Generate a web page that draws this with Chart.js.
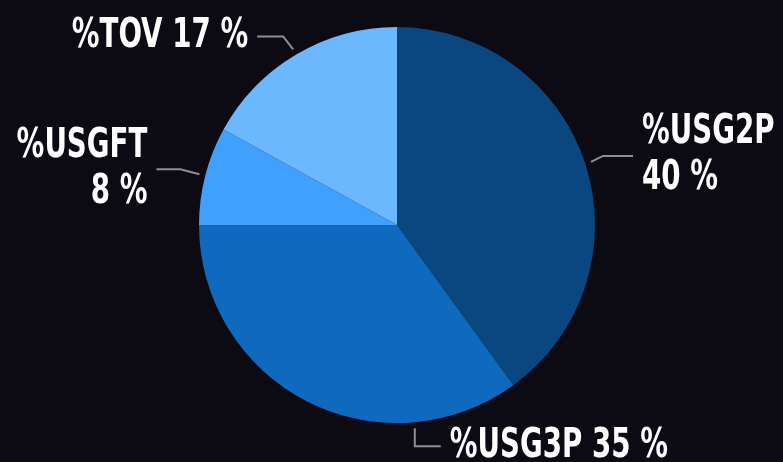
<!DOCTYPE html>
<html>
<head>
<meta charset="utf-8">
<script src="https://cdn.jsdelivr.net/npm/chart.js@4"></script>
<style>
  html, body { margin: 0; padding: 0; background: #0c0a13; }
  #wrap { width: 783px; height: 462px; }
</style>
</head>
<body>
<div id="wrap"><canvas id="grafico"></canvas></div>
<script>
// dados do gráfico
const categorias = ['%USG2P', '%USG3P', '%USGFT', '%TOV'];
const valores = [40, 35, 8, 17];
const cores = ['#0a4780', '#0e69bf', '#3fa1fd', '#6cb8fe'];

// posição dos rótulos (fração do arco, deslocamentos da linha guia)
const rotulos = [
  { t: 0.5,  seg: [[12, -6], [42, -6]], lado: 'left',  linhas: 2 },
  { t: 0.246, seg: [[0, 18], [26, 18]], lado: 'left',  linhas: 1 },
  { t: 0.5,  seg: [[-19, -5], [-43, -5]], lado: 'right', linhas: 2 },
  { t: 0.5,  seg: [[-10, -13], [-36, -13]], lado: 'right', linhas: 1 }
];

const fonte = 'bold 40px "DejaVu Sans Condensed", "DejaVu Sans", sans-serif';
const escalaX = 0.77; // fonte condensada

const pluginRotulos = {
  id: 'rotulos',
  afterDraw(chart) {
    const ctx = chart.ctx;
    const meta = chart.getDatasetMeta(0);
    meta.data.forEach((arc, i) => {
      const r = rotulos[i];
      const ang = arc.startAngle + r.t * (arc.endAngle - arc.startAngle);
      const x0 = arc.x + Math.cos(ang) * (arc.outerRadius + 6);
      const y0 = arc.y + Math.sin(ang) * (arc.outerRadius + 6);
      ctx.save();
      ctx.strokeStyle = '#8e8e98';
      ctx.lineWidth = 2;
      ctx.beginPath();
      ctx.moveTo(x0, y0);
      r.seg.forEach(p => ctx.lineTo(x0 + p[0], y0 + p[1]));
      ctx.stroke();

      const fim = r.seg[r.seg.length - 1];
      const tx = x0 + fim[0] + (r.lado === 'left' ? 9 : -9);
      const ty = y0 + fim[1];
      ctx.translate(tx, ty);
      ctx.scale(escalaX, 1);
      ctx.font = fonte;
      ctx.fillStyle = '#ffffff';
      ctx.textAlign = r.lado;
      ctx.textBaseline = 'middle';
      const texto = valores[i] + ' %';
      if (r.linhas === 2) {
        ctx.fillText(categorias[i], 0, -23);
        ctx.fillText(texto, 0, 23);
      } else {
        ctx.fillText(categorias[i] + ' ' + texto, 0, 0);
      }
      ctx.restore();
    });
  }
};

const ctx = document.getElementById('grafico').getContext('2d');
new Chart(ctx, {
  type: 'pie',
  data: {
    labels: categorias,
    datasets: [{
      data: valores,
      backgroundColor: cores,
      borderWidth: 0
    }]
  },
  options: {
    responsive: true,
    maintainAspectRatio: false,
    animation: false,
    layout: { padding: { left: 11, right: 0, top: 27, bottom: 39 } },
    plugins: {
      legend: { display: false },
      tooltip: { enabled: false }
    }
  },
  plugins: [pluginRotulos]
});
</script>
</body>
</html>
